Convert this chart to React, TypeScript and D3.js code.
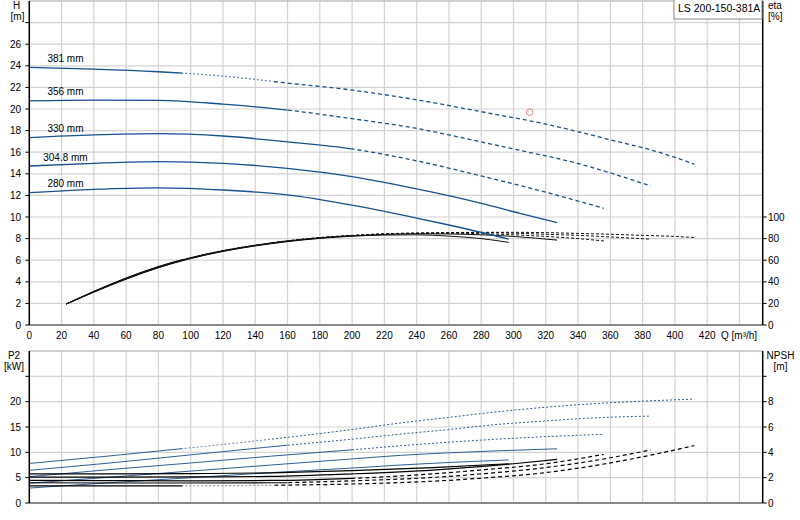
import * as d3 from 'd3';

// impeller diameters, largest first
const diameters = ['381 mm', '356 mm', '330 mm', '304.8 mm', '280 mm'];

// Head H [m] against Q [m³/h]
const head381 = [[0, 23.85], [40, 23.7], [80, 23.45], [120, 23.05], [160, 22.4], [200, 21.75], [240, 20.85], [280, 19.75], [320, 18.6], [360, 17.15], [390, 16.0], [412, 14.9]];
const head356 = [[0, 20.75], [40, 20.82], [80, 20.8], [120, 20.45], [160, 19.9], [200, 19.1], [240, 18.2], [260, 17.6], [280, 16.95], [300, 16.3], [340, 14.95], [385, 12.87]];
const head330 = [[0, 17.35], [40, 17.6], [80, 17.72], [120, 17.5], [160, 16.95], [200, 16.3], [240, 15.2], [280, 13.8], [320, 12.3], [356, 10.8]];
const head304 = [[0, 14.72], [40, 14.97], [80, 15.12], [120, 14.97], [160, 14.5], [200, 13.73], [240, 12.6], [280, 11.27], [304, 10.34], [327, 9.47]];
const head280 = [[0, 12.25], [40, 12.56], [80, 12.7], [120, 12.5], [160, 12.05], [200, 11.1], [240, 9.9], [260, 9.26], [297, 7.96]];
const headCurves = [head381, head356, head330, head304, head280];

// Efficiency eta [%]
const eta381 = [[23, 19.5], [40, 31.2], [60, 43.6], [80, 54.2], [100, 62.6], [120, 69.1], [140, 74.1], [160, 78], [180, 81], [200, 83], [220, 84.5], [250, 85.3], [280, 85.8], [300, 85.8], [320, 85.5], [340, 84.8], [360, 84], [380, 83], [400, 82], [412, 81]];
const eta356 = [[23, 19.5], [40, 31.0], [60, 43.3], [80, 53.9], [100, 62.3], [120, 68.8], [140, 73.8], [160, 77.8], [180, 80.8], [200, 82.8], [220, 84.3], [250, 85.2], [280, 85.5], [300, 85], [320, 84], [340, 83], [360, 81.5], [385, 79.5]];
const eta330 = [[23, 19.5], [40, 30.8], [60, 43.0], [80, 53.6], [100, 62.1], [120, 68.7], [140, 73.7], [160, 77.7], [180, 80.7], [200, 82.7], [220, 84], [240, 84.8], [260, 85], [280, 84.5], [300, 83.5], [320, 82], [340, 80], [356, 77.8]];
const eta304 = [[23, 19.5], [40, 30.6], [60, 42.7], [80, 53.3], [100, 61.8], [120, 68.4], [140, 73.5], [160, 77.5], [180, 80.5], [200, 82.5], [220, 83.8], [240, 84.5], [260, 84.3], [280, 83.5], [300, 82], [327, 78.6]];
const eta280 = [[23, 19.5], [40, 30.4], [60, 42.4], [80, 53.0], [100, 61.5], [120, 68.1], [140, 73.2], [160, 77.2], [180, 80.2], [200, 82.2], [220, 83.3], [240, 83.5], [260, 82.3], [280, 80], [297, 76.5]];
const etaCurves = [eta381, eta356, eta330, eta304, eta280];

// Shaft power P2 [kW]
const p2_381 = [[0, 7.8], [50, 9.3], [100, 10.9], [150, 12.6], [200, 14.5], [230, 15.8], [260, 16.9], [290, 18.0], [320, 18.9], [350, 19.6], [380, 20.1], [412, 20.5]];
const p2_356 = [[0, 6.45], [50, 7.9], [100, 9.5], [150, 11.1], [200, 12.6], [230, 13.6], [260, 14.5], [290, 15.5], [320, 16.2], [350, 16.8], [385, 17.15]];
const p2_330 = [[0, 5.2], [50, 6.6], [100, 7.9], [150, 9.25], [200, 10.5], [230, 11.3], [260, 12.0], [290, 12.6], [320, 13.1], [356, 13.55]];
const p2_304 = [[0, 3.9], [50, 5.1], [100, 6.3], [150, 7.5], [200, 8.7], [230, 9.4], [260, 9.9], [290, 10.3], [327, 10.7]];
const p2_280 = [[0, 2.95], [50, 4.0], [100, 5.0], [150, 6.0], [200, 6.9], [230, 7.5], [260, 8.0], [297, 8.5]];
const p2Curves = [p2_381, p2_356, p2_330, p2_304, p2_280];

// NPSH [m]
const npsh381 = [[0, 1.35], [50, 1.35], [100, 1.36], [150, 1.4], [200, 1.5], [250, 1.72], [279, 1.95], [320, 2.4], [350, 2.95], [380, 3.65], [412, 4.53]];
const npsh356 = [[0, 1.6], [50, 1.58], [100, 1.58], [150, 1.6], [200, 1.75], [250, 2.02], [279, 2.29], [320, 2.8], [350, 3.35], [385, 4.19]];
const npsh330 = [[0, 1.78], [50, 1.76], [100, 1.75], [150, 1.78], [200, 1.95], [250, 2.3], [279, 2.6], [320, 3.1], [356, 3.85]];
const npsh304 = [[0, 2.05], [50, 2.05], [100, 2.06], [150, 2.1], [200, 2.3], [250, 2.6], [279, 2.87], [300, 3.1], [327, 3.45]];
const npsh280 = [[0, 2.3], [50, 2.3], [100, 2.32], [150, 2.38], [200, 2.55], [250, 2.8], [297, 3.1]];
const npshCurves = [npsh381, npsh356, npsh330, npsh304, npsh280];

// Q where the solid part ends and where the dashed part starts
const solidEnd = [95, 160, 200, 1000, 1000];
const dashStart = [150, 160, 200, 1000, 1000];

const dutyPoint = [310, 19.7];

const qTicks = [0, 20, 40, 60, 80, 100, 120, 140, 160, 180, 200, 220, 240, 260, 280, 300, 320, 340, 360, 380, 400, 420];
const qGrid = [...qTicks, 440];
const hTicks = [0, 2, 4, 6, 8, 10, 12, 14, 16, 18, 20, 22, 24, 26];
const hGrid = [...hTicks, 28];
const etaTicks = [0, 20, 40, 60, 80, 100];
const p2Ticks = [0, 5, 10, 15, 20];
const p2Grid = [...p2Ticks, 25];
const npshTicks = [0, 2, 4, 6, 8];
const npshMarks = [...npshTicks, 10];

const W = 800;
const H = 520;
const FONT = '"Liberation Sans", Arial, sans-serif';
const BLUE = '#17508f';
const GRID = '#d3d3d3';

const x = d3.scaleLinear().domain([0, 454.4]).range([29.3, 762.7]);
const yH = d3.scaleLinear().domain([0, 30]).range([325, 1]);
const yEta = d3.scaleLinear().domain([0, 300]).range([325, 1]);
const yP = d3.scaleLinear().domain([0, 30]).range([503, 351]);
const yN = d3.scaleLinear().domain([0, 12]).range([503, 351]);

const pathOf = (pts: number[][], y: d3.ScaleLinear<number, number>) =>
  d3
    .line<number[]>()
    .x((d) => x(d[0]))
    .y((d) => y(d[1]))
    .curve(d3.curveMonotoneX)(pts) || '';

type CurveProps = {
  pts: number[][];
  y: d3.ScaleLinear<number, number>;
  i: number;
  color: string;
  dotColor: string;
  width: number;
  dot: string;
  dash: string;
};

// draws one curve three times, each clipped to its Q range
const Curve = ({ pts, y, i, color, dotColor, width, dot, dash }: CurveProps) => {
  const d = pathOf(pts, y);
  return (
    <g fill="none" strokeWidth={width}>
      <path d={d} stroke={color} clipPath={`url(#solid${i})`} />
      <path d={d} stroke={dotColor} strokeDasharray={dot} clipPath={`url(#dot${i})`} />
      <path d={d} stroke={color} strokeDasharray={dash} clipPath={`url(#dash${i})`} />
    </g>
  );
};

const App = () => {
  const xl = x.range()[0];
  const xr = x.range()[1];
  const clamp = (v: number) => Math.min(W, v);

  return (
    <svg
      width={W}
      height={H}
      style={{ position: 'absolute', left: 0, top: 0, background: '#fff' }}
      fontFamily={FONT}
    >
      <defs>
        {diameters.map((_, i) => (
          <g key={i}>
            <clipPath id={`solid${i}`}>
              <rect x={0} y={0} width={clamp(x(solidEnd[i]))} height={H} />
            </clipPath>
            <clipPath id={`dot${i}`}>
              <rect x={clamp(x(solidEnd[i]))} y={0} width={Math.max(0, clamp(x(dashStart[i])) - clamp(x(solidEnd[i])))} height={H} />
            </clipPath>
            <clipPath id={`dash${i}`}>
              <rect x={clamp(x(dashStart[i]))} y={0} width={W - clamp(x(dashStart[i]))} height={H} />
            </clipPath>
          </g>
        ))}
      </defs>

      {/* grids */}
      <g stroke={GRID} strokeWidth={1.2}>
        {qGrid.map((q) => (
          <g key={q}>
            <line x1={x(q)} x2={x(q)} y1={yH(30)} y2={yH(0)} />
            <line x1={x(q)} x2={x(q)} y1={yP(30)} y2={yP(0)} />
          </g>
        ))}
        {hGrid.map((v) => (
          <line key={v} x1={xl} x2={xr} y1={yH(v)} y2={yH(v)} />
        ))}
        {p2Grid.map((v) => (
          <line key={v} x1={xl} x2={xr} y1={yP(v)} y2={yP(v)} />
        ))}
      </g>

      {/* frames */}
      <g>
        <line x1={xl} x2={xr} y1={yH(30)} y2={yH(30)} stroke="#a0a0a0" />
        <line x1={xl} x2={xr} y1={yP(30)} y2={yP(30)} stroke="#a0a0a0" />
        <line x1={xl} x2={xr} y1={yH(0)} y2={yH(0)} stroke="#8a8a8a" strokeWidth={2} />
        <line x1={xl} x2={xr} y1={yP(0)} y2={yP(0)} stroke="#8a8a8a" strokeWidth={2} />
        <line x1={xl} x2={xl} y1={yH(30)} y2={yH(0)} stroke="#000" strokeWidth={1.5} />
        <line x1={xr} x2={xr} y1={yH(30)} y2={yH(0)} stroke="#000" strokeWidth={1.5} />
        <line x1={xl} x2={xl} y1={yP(30)} y2={yP(0)} stroke="#000" strokeWidth={1.5} />
        <line x1={xr} x2={xr} y1={yP(30)} y2={yP(0)} stroke="#000" strokeWidth={1.5} />
      </g>

      {/* ticks and tick labels */}
      <g fontSize={10} fill="#000">
        {hGrid.map((v) => (
          <line key={v} x1={xl - 4} x2={xl} y1={yH(v)} y2={yH(v)} stroke="#000" />
        ))}
        {hTicks.map((v) => (
          <text key={v} x={21} y={yH(v) + 3.5} textAnchor="end">{v}</text>
        ))}
        {etaTicks.map((v) => (
          <g key={v}>
            <line x1={xr} x2={xr + 4} y1={yEta(v)} y2={yEta(v)} stroke="#000" />
            <text x={768} y={yEta(v) + 3.5}>{v}</text>
          </g>
        ))}
        {qTicks.map((q) => (
          <text key={q} x={x(q)} y={339} textAnchor="middle">{q}</text>
        ))}
        {p2Grid.map((v) => (
          <line key={v} x1={xl - 4} x2={xl} y1={yP(v)} y2={yP(v)} stroke="#000" />
        ))}
        {p2Ticks.map((v) => (
          <text key={v} x={21} y={yP(v) + 3.5} textAnchor="end">{v}</text>
        ))}
        {npshMarks.map((v) => (
          <line key={v} x1={xr} x2={xr + 4} y1={yN(v)} y2={yN(v)} stroke="#000" />
        ))}
        {npshTicks.map((v) => (
          <text key={v} x={768} y={yN(v) + 3.5}>{v}</text>
        ))}
      </g>

      {/* axis titles */}
      <g fontSize={10} fill="#000">
        <text x={16.5} y={9} textAnchor="middle">H</text>
        <text x={17.5} y={19.5} textAnchor="middle">[m]</text>
        <text x={768} y={8.5}>eta</text>
        <text x={768} y={19.5}>[%]</text>
        <text x={721} y={339}>Q [m³/h]</text>
        <text x={14} y={359} textAnchor="middle">P2</text>
        <text x={14} y={369.5} textAnchor="middle">[kW]</text>
        <text x={780.5} y={359} textAnchor="middle">NPSH</text>
        <text x={780.5} y={369.5} textAnchor="middle">[m]</text>
      </g>

      {/* efficiency */}
      {etaCurves.map((pts, i) => (
        <Curve key={`e${i}`} pts={pts} y={yEta} i={i} color="#111" dotColor="#888" width={1} dot="2,2" dash="3,2" />
      ))}

      {/* head */}
      {headCurves.map((pts, i) => (
        <Curve key={`h${i}`} pts={pts} y={yH} i={i} color={BLUE} dotColor="#6c86aa" width={1.3} dot="2,2" dash="4,3" />
      ))}

      {/* P2 */}
      {p2Curves.map((pts, i) => (
        <Curve key={`p${i}`} pts={pts} y={yP} i={i} color="#2f5e97" dotColor="#6c86aa" width={1} dot="2,2" dash="2,2" />
      ))}

      {/* NPSH */}
      {npshCurves.map((pts, i) => (
        <Curve key={`n${i}`} pts={pts} y={yN} i={i} color="#000" dotColor="#999" width={1.2} dot="2,2" dash="4,3" />
      ))}

      {/* diameter labels */}
      <g fontSize={10} fill="#000">
        {headCurves.map((pts, i) => (
          <text key={i} x={x(22.4)} y={yH(pts[0][1]) - 5.5} textAnchor="middle">
            {diameters[i]}
          </text>
        ))}
      </g>

      {/* duty point */}
      <circle cx={x(dutyPoint[0])} cy={yH(dutyPoint[1])} r={3.3} fill="none" stroke="#f07a7a" strokeWidth={1} />

      {/* legend */}
      <rect x={674} y={-0.5} width={88} height={19.5} fill="#fff" stroke="#8a8a8a" />
      <text x={678} y={12} fontSize={10.5} fill="#000">LS 200-150-381A</text>
    </svg>
  );
};

export default App;
